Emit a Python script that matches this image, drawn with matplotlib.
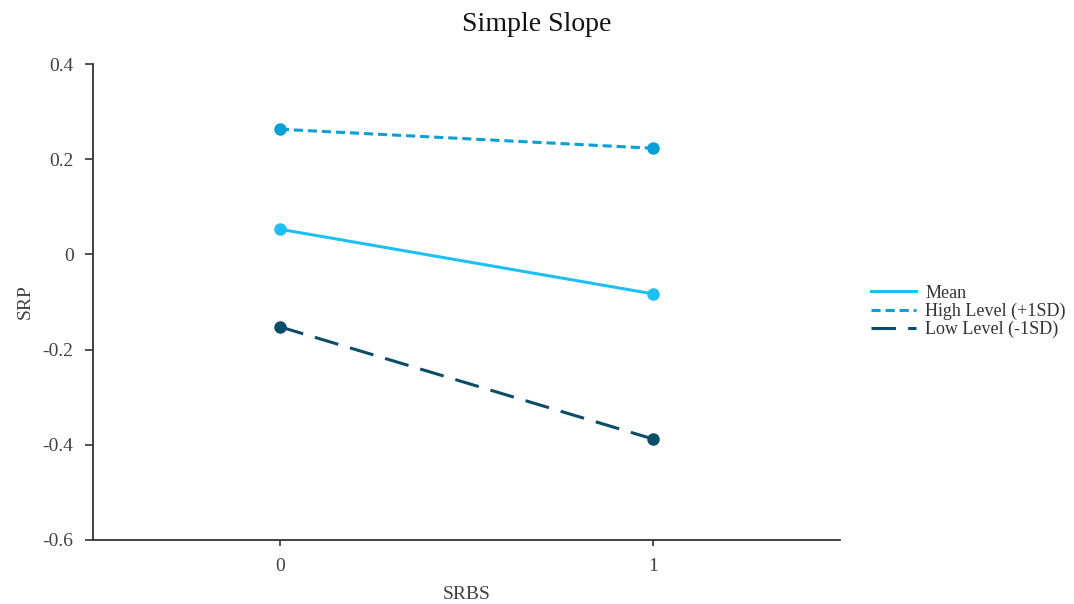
import matplotlib.pyplot as plt

plt.rcParams['font.family'] = ['Liberation Serif', 'DejaVu Serif']

# --- data ---
x_levels = [0, 1]
x_ticklabels = ['0', '1']
mean_vals = [0.053, -0.083]
high_vals = [0.263, 0.223]
low_vals = [-0.152, -0.388]
series_names = ['Mean', 'High Level (+1SD)', 'Low Level (-1SD)']
y_ticks = [-0.6, -0.4, -0.2, 0, 0.2, 0.4]
y_ticklabels = ['-0.6', '-0.4', '-0.2', '0', '0.2', '0.4']

fig = plt.figure(figsize=(10.74, 6.04), dpi=100)
ax = fig.add_axes([0.0866, 0.106, 0.6955, 0.788])

ax.plot(x_levels, mean_vals, color='#1EBFF3', lw=2.2, ls='-',
        marker='o', ms=8, label=series_names[0])
ax.plot(x_levels, high_vals, color='#0A9FD6', lw=2.2, ls=(0, (3, 1.6)),
        marker='o', ms=8, label=series_names[1])
ax.plot(x_levels, low_vals, color='#0B4C66', lw=2.2, ls=(0, (8, 4)),
        marker='o', ms=8, label=series_names[2])

ax.set_xlim(-0.5, 1.5)
ax.set_ylim(-0.6, 0.4)
ax.set_xticks(x_levels)
ax.set_xticklabels(x_ticklabels)
ax.set_yticks(y_ticks)
ax.set_yticklabels(y_ticklabels)

for s in ['top', 'right']:
    ax.spines[s].set_visible(False)
for s in ['left', 'bottom']:
    ax.spines[s].set_color('#333333')
    ax.spines[s].set_linewidth(1.3)

ax.tick_params(axis='y', direction='out', length=6, width=1.2, colors='#333333',
               labelsize=14, pad=8)
ax.tick_params(axis='x', direction='out', length=4, width=1.2, colors='#333333',
               labelsize=14, pad=9)
for lab in ax.get_xticklabels() + ax.get_yticklabels():
    lab.set_color('#404040')

ax.set_xlabel('SRBS', fontsize=14, color='#404040', labelpad=8)
ax.set_ylabel('SRP', fontsize=14, color='#404040', labelpad=6)
fig.suptitle('Simple Slope', fontsize=20, y=0.98, color='#111111')

leg = ax.legend(handles=[h for h in ax.get_lines()], loc='center left',
                bbox_to_anchor=(1.02, 0.48), frameon=False, fontsize=13,
                handlelength=2.5, labelspacing=0.05, handletextpad=0.5)
for line in leg.get_lines():
    line.set_marker('')
for t in leg.get_texts():
    t.set_color('#333333')

fig.savefig('out.png', dpi=100)
